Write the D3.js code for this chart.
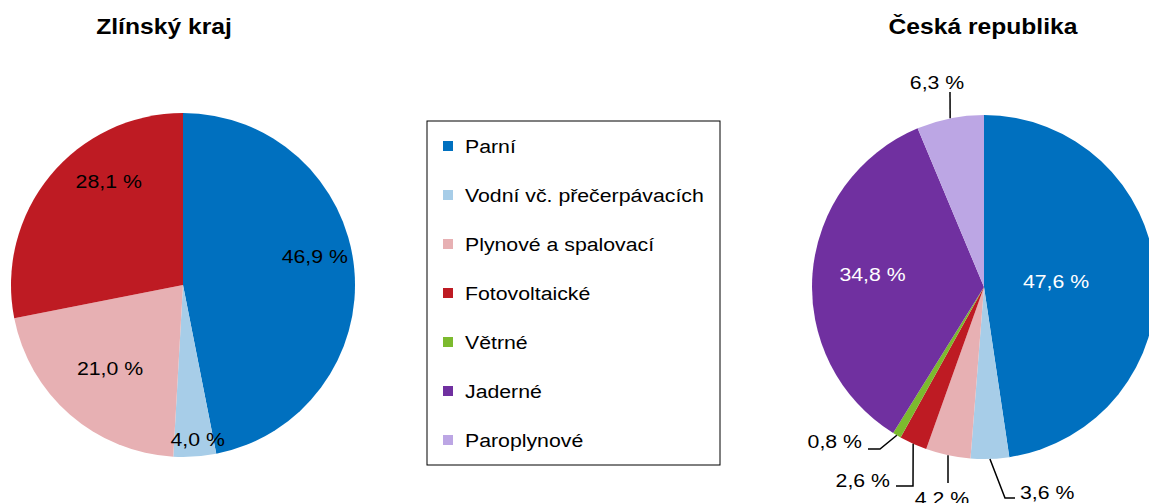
<!DOCTYPE html>
<html>
<head>
<meta charset="utf-8">
<script src="https://cdn.jsdelivr.net/npm/d3@7"></script>
<style>
  body { margin: 0; background: #fff; }
  svg { display: block; font-family: "Liberation Sans", Arial, sans-serif; }
</style>
</head>
<body>
<div class="canvas"></div>
<script>
// categories and values (%)
const categories = ['Parní', 'Vodní vč. přečerpávacích', 'Plynové a spalovací', 'Fotovoltaické', 'Větrné', 'Jaderné', 'Paroplynové'];
const zlinValues = [46.9, 4.0, 21.0, 28.1, 0, 0, 0];
const czValues = [47.6, 3.6, 4.2, 2.6, 0.8, 34.8, 6.3];
const titles = ['Zlínský kraj', 'Česká republika'];
const colours = ['#0070bf', '#a7cde8', '#e7b0b3', '#be1b23', '#7cba2e', '#7030a0', '#bca6e4'];

const dims = { width: 1149, height: 503, radius: 172 };
const stretch = 1.12; // text in the original is rendered a bit wider

const svg = d3.select('.canvas')
    .append('svg')
    .attr('width', dims.width)
    .attr('height', dims.height);

const colour = d3.scaleOrdinal().domain(categories).range(colours);

const pie = d3.pie()
    .sort(null)
    .value(d => d.value);

const arcPath = d3.arc()
    .outerRadius(dims.radius)
    .innerRadius(0);

const fmt = v => v.toFixed(1).replace('.', ',') + ' %';

// text helper with horizontal stretch
const addText = (parent, x, y, str, size, anchor = 'middle', fill = '#000', weight = 'normal') => {
  parent.append('g')
      .attr('transform', `translate(${x}, ${y}) scale(${stretch}, 1)`)
    .append('text')
      .attr('dy', '0.35em')
      .attr('text-anchor', anchor)
      .attr('font-size', size)
      .attr('font-weight', weight)
      .attr('fill', fill)
      .text(str);
};

// inside labels: [radius factor, dx, dy]; outside labels: leader elbow points + text anchor
const charts = [
  {
    title: titles[0], values: zlinValues, cx: 183, cy: 285, titleX: 164, labelFill: '#000',
    inside: { 0: [0.77, 0, -16], 1: [0.9, 4, 0], 2: [0.77, 14, -17], 3: [0.77, 28, -20] },
    outside: {}
  },
  {
    title: titles[1], values: czValues, cx: 984, cy: 287, titleX: 983, labelFill: '#fff',
    inside: { 0: [0.42, 0, 0], 5: [0.65, 0, -4] },
    outside: {
      1: { pts: [[21, 211], [31, 211]], text: [36, 205], anchor: 'start' },
      2: { pts: [[-36, 196]], text: [-42, 211], anchor: 'middle' },
      3: { pts: [[-71, 199], [-88, 199]], text: [-94, 193], anchor: 'end' },
      4: { pts: [[-104, 162], [-116, 162]], text: [-122, 154], anchor: 'end' },
      6: { pts: [[-34, -195]], text: [-47, -205], anchor: 'middle' }
    }
  }
];

charts.forEach(c => {
  const data = categories.map((name, i) => ({ name, value: c.values[i] }));
  const g = svg.append('g')
      .attr('transform', `translate(${c.cx}, ${c.cy})`);

  addText(svg, c.titleX, 26, c.title, 22, 'middle', '#000', 'bold');

  const arcs = pie(data);

  g.selectAll('path')
    .data(arcs.filter(d => d.data.value > 0))
    .enter()
    .append('path')
      .attr('d', arcPath)
      .attr('fill', d => colour(d.data.name));

  arcs.forEach((d, i) => {
    const mid = (d.startAngle + d.endAngle) / 2;
    if (c.inside[i]) {
      const [f, dx, dy] = c.inside[i];
      const r = dims.radius * f;
      addText(g, Math.sin(mid) * r + dx, -Math.cos(mid) * r + dy, fmt(d.data.value), 19, 'middle', c.labelFill);
    } else if (c.outside[i]) {
      const o = c.outside[i];
      const start = [Math.sin(mid) * dims.radius, -Math.cos(mid) * dims.radius];
      g.append('path')
          .attr('d', d3.line()([start, ...o.pts]))
          .attr('fill', 'none')
          .attr('stroke', '#000')
          .attr('stroke-width', 1.5);
      addText(g, o.text[0], o.text[1], fmt(d.data.value), 19, o.anchor);
    }
  });
});

// legend
const legend = svg.append('g')
    .attr('transform', 'translate(427, 121)');

legend.append('rect')
    .attr('width', 293)
    .attr('height', 344)
    .attr('fill', '#fff')
    .attr('stroke', '#000')
    .attr('stroke-width', 1);

const ly = d3.scalePoint()
    .domain(categories)
    .range([25, 319]);

const items = legend.selectAll('g.item')
    .data(categories)
    .enter()
    .append('g')
      .attr('class', 'item')
      .attr('transform', d => `translate(0, ${ly(d)})`);

items.append('rect')
    .attr('x', 16)
    .attr('y', -5)
    .attr('width', 10)
    .attr('height', 10)
    .attr('fill', d => colour(d));

items.each(function(d) {
  addText(d3.select(this), 38, 0, d, 19, 'start');
});
</script>
</body>
</html>
